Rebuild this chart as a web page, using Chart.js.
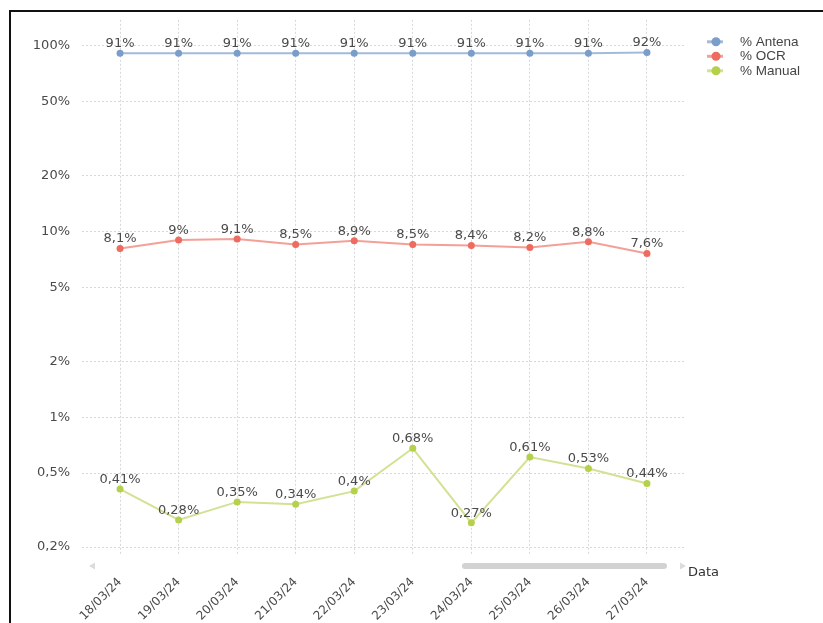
<!DOCTYPE html>
<html>
<head>
<meta charset="utf-8">
<script src="https://cdn.jsdelivr.net/npm/chart.js@4/dist/chart.umd.min.js"></script>
<style>
  html, body { margin: 0; padding: 0; background: #fff; }
  #wrap { position: relative; width: 823px; height: 623px; overflow: hidden; }
  #chart { position: absolute; left: 0; top: 0; }
  #frame { position: absolute; left: 9px; top: 10px; right: 0; bottom: -5px;
           border-left: 2px solid #111; border-top: 2px solid #111; pointer-events: none; }
</style>
</head>
<body>
<div id="wrap">
  <canvas id="chart" width="823" height="623"></canvas>
  <div id="frame"></div>
</div>
<script>
// chart data
const dates = ['18/03/24','19/03/24','20/03/24','21/03/24','22/03/24','23/03/24','24/03/24','25/03/24','26/03/24','27/03/24'];
const antena = [91, 91, 91, 91, 91, 91, 91, 91, 91, 92];
const ocr = [8.1, 9, 9.1, 8.5, 8.9, 8.5, 8.4, 8.2, 8.8, 7.6];
const manual = [0.41, 0.28, 0.35, 0.34, 0.4, 0.68, 0.27, 0.61, 0.53, 0.44];
const yTicks = [0.2, 0.5, 1, 2, 5, 10, 20, 50, 100];

const FONT = '"DejaVu Sans", Verdana, sans-serif';
const TXT = '#4a4a4a';

function pct(v) {
  return String(v).replace('.', ',') + '%';
}

const toXY = arr => arr.map((v, i) => ({x: i, y: v}));

// value labels above each point
const valueLabels = {
  id: 'valueLabels',
  afterDatasetsDraw(chart) {
    const c = chart.ctx;
    c.save();
    c.font = '13px ' + FONT;
    c.fillStyle = TXT;
    c.textAlign = 'center';
    c.textBaseline = 'bottom';
    chart.data.datasets.forEach((ds, di) => {
      chart.getDatasetMeta(di).data.forEach((pt, i) => {
        c.fillText(pct(ds.data[i].y), pt.x, pt.y - 3);
      });
    });
    c.restore();
  }
};

// legend, fake scrollbar and "Data" axis title
const extras = {
  id: 'extras',
  afterDraw(chart) {
    const c = chart.ctx;
    const a = chart.chartArea;
    c.save();
    // legend
    c.font = '13.5px "Liberation Sans", Arial, sans-serif';
    c.textBaseline = 'middle';
    chart.data.datasets.forEach((ds, i) => {
      const y = a.top + 22 + i * 14.5;
      const x = a.right + 22;
      c.strokeStyle = ds.borderColor;
      c.lineWidth = 3;
      c.beginPath(); c.moveTo(x, y); c.lineTo(x + 16, y); c.stroke();
      c.fillStyle = ds.pointBackgroundColor;
      c.beginPath(); c.arc(x + 9, y, 4.5, 0, Math.PI * 2); c.fill();
      c.fillStyle = '#444';
      c.fillText(ds.label, x + 33, y);
    });
    // scrollbar
    const sy = a.bottom + 11;
    c.fillStyle = '#d2d2d2';
    c.beginPath();
    c.roundRect(a.left + 380, sy - 3, 205, 6, 3);
    c.fill();
    c.fillStyle = '#dcdcdc';
    c.beginPath(); c.moveTo(a.left + 7, sy); c.lineTo(a.left + 13, sy - 3.5); c.lineTo(a.left + 13, sy + 3.5); c.fill();
    c.beginPath(); c.moveTo(a.right - 5, sy - 3.5); c.lineTo(a.right + 1, sy); c.lineTo(a.right - 5, sy + 3.5); c.fill();
    // axis title
    c.font = '13px ' + FONT;
    c.fillStyle = '#333';
    c.textAlign = 'left';
    c.fillText('Data', a.right + 3, sy + 7);
    c.restore();
  }
};

const grid = {
  color: '#d8d8d8',
  lineWidth: 1,
  drawTicks: false
};

new Chart(document.getElementById('chart'), {
  type: 'line',
  data: {
    datasets: [
      { label: '% Antena', data: toXY(antena), borderColor: '#a3bbdb', pointBackgroundColor: '#7b9dc9', pointBorderColor: '#7b9dc9' },
      { label: '% OCR', data: toXY(ocr), borderColor: '#f3a098', pointBackgroundColor: '#ee6b5f', pointBorderColor: '#ee6b5f' },
      { label: '% Manual', data: toXY(manual), borderColor: '#d2e293', pointBackgroundColor: '#b5d04b', pointBorderColor: '#b5d04b' }
    ]
  },
  options: {
    responsive: false,
    animation: false,
    layout: { padding: { top: 17, right: 138, left: 0, bottom: 0 } },
    elements: {
      line: { borderWidth: 2, tension: 0 },
      point: { radius: 3.5, borderWidth: 0 }
    },
    plugins: { legend: { display: false }, tooltip: { enabled: false } },
    scales: {
      x: {
        type: 'linear',
        min: -0.65,
        max: 9.65,
        afterBuildTicks: s => { s.ticks = dates.map((d, i) => ({value: i})); },
        afterFit: s => { s.height = 68; },
        border: { display: false, dash: [2, 2] },
        grid: Object.assign({}, grid),
        ticks: {
          callback: v => dates[v],
          autoSkip: false,
          minRotation: 45,
          maxRotation: 45,
          padding: 20,
          color: TXT,
          font: { family: FONT, size: 12 }
        }
      },
      y: {
        type: 'logarithmic',
        min: 0.1812,
        max: 137.8,
        afterBuildTicks: s => { s.ticks = yTicks.map(v => ({value: v})); },
        afterFit: s => { s.width = 82; },
        border: { display: false, dash: [2, 2] },
        grid: Object.assign({}, grid),
        ticks: {
          callback: v => pct(v),
          padding: 12,
          color: TXT,
          font: { family: FONT, size: 13 }
        }
      }
    }
  },
  plugins: [valueLabels, extras]
});
</script>
</body>
</html>
